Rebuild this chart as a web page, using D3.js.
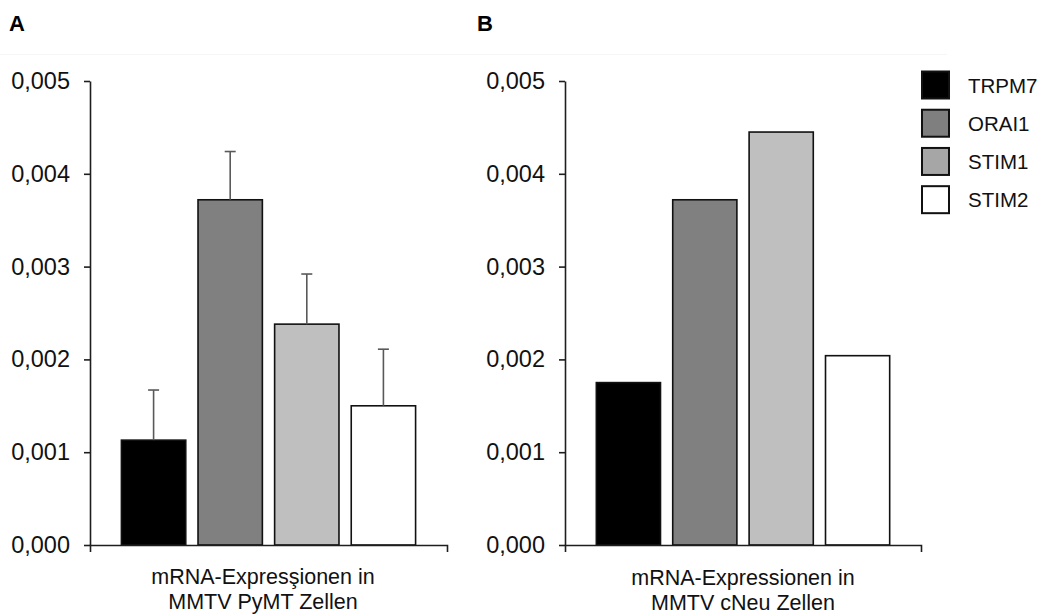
<!DOCTYPE html>
<html>
<head>
<meta charset="utf-8">
<script src="https://cdn.jsdelivr.net/npm/d3@7"></script>
<style>
  html, body { margin: 0; padding: 0; background: #fff; }
  svg { display: block; font-family: "Liberation Sans", Arial, sans-serif; }
</style>
</head>
<body>
<svg id="chart" width="1044" height="616"></svg>
<script>
// ---- Data ----
const genes = ["TRPM7", "ORAI1", "STIM1", "STIM2"];
const pymtValues = [0.00113, 0.00372, 0.00238, 0.00150];
const pymtErrors = [0.00054, 0.00052, 0.00054, 0.00061];
const cneuValues = [0.00175, 0.00372, 0.00445, 0.00204];
const yTicks = [0, 0.001, 0.002, 0.003, 0.004, 0.005];
const panelLabels = ["A", "B"];
const axisTitlesA = ["mRNA-Expresşionen in", "MMTV PyMT Zellen"];
const axisTitlesB = ["mRNA-Expressionen in", "MMTV cNeu Zellen"];
const barColors = ["#000000", "#808080", "#bfbfbf", "#ffffff"];
const legendColors = ["#000000", "#7f7f7f", "#a6a6a6", "#ffffff"];

const svg = d3.select("#chart");
const deLocale = d3.formatLocale({decimal: ",", thousands: ".", grouping: [3], currency: ["", "€"]});
const fmt = deLocale.format(".3f");

const color = d3.scaleOrdinal().domain(genes).range(barColors);
const legendColor = d3.scaleOrdinal().domain(genes).range(legendColors);

// faint separator line
svg.append("line").attr("x1", 0).attr("x2", 947).attr("y1", 54.5).attr("y2", 54.5)
  .attr("stroke", "#f6f6f6").attr("stroke-width", 1);

function drawPanel(x0, x1, values, errors, titleLines, titleCx, titleY, label, labelX) {
  const y = d3.scaleLinear().domain([0, 0.005]).range([545, 81]);
  const x = d3.scaleBand().domain(genes).range([x0, x1]).paddingInner(0.16).paddingOuter(0.41);
  const g = svg.append("g");

  // y axis
  const yAxis = d3.axisLeft(y).tickValues(yTicks).tickFormat(fmt).tickSizeInner(6).tickSizeOuter(0).tickPadding(14);
  const ya = g.append("g").attr("transform", `translate(${x0},0)`).call(yAxis);
  ya.selectAll("path, line").attr("stroke", "#1e1e1e").attr("stroke-width", 1.6);
  ya.selectAll("text").attr("font-size", 23.5).attr("fill", "#111")
    .attr("font-family", "'Liberation Sans', Arial, sans-serif");

  // bars
  g.selectAll("rect.bar").data(genes).enter().append("rect")
    .attr("class", "bar")
    .attr("x", d => x(d))
    .attr("y", (d, i) => y(values[i]))
    .attr("width", x.bandwidth())
    .attr("height", (d, i) => y(0) - y(values[i]))
    .attr("fill", d => color(d))
    .attr("stroke", "#111")
    .attr("stroke-width", 1.6);

  // error bars
  if (errors) {
    const eb = g.selectAll("g.err").data(genes).enter().append("g").attr("class", "err");
    eb.append("line")
      .attr("x1", d => x(d) + x.bandwidth() / 2).attr("x2", d => x(d) + x.bandwidth() / 2)
      .attr("y1", (d, i) => y(values[i])).attr("y2", (d, i) => y(values[i] + errors[i]))
      .attr("stroke", "#595959").attr("stroke-width", 1.6);
    eb.append("line")
      .attr("x1", d => x(d) + x.bandwidth() / 2 - 5.5).attr("x2", d => x(d) + x.bandwidth() / 2 + 5.5)
      .attr("y1", (d, i) => y(values[i] + errors[i])).attr("y2", (d, i) => y(values[i] + errors[i]))
      .attr("stroke", "#595959").attr("stroke-width", 1.6);
  }

  // x axis
  const xAxis = d3.axisBottom(d3.scaleLinear().range([x0, x1])).tickValues([]).tickSizeOuter(7);
  const xa = g.append("g").attr("transform", `translate(0,${y(0)})`).call(xAxis);
  xa.selectAll("path").attr("stroke", "#1e1e1e").attr("stroke-width", 1.6);

  // axis title
  g.append("text").attr("x", titleCx).attr("y", titleY).attr("text-anchor", "middle")
    .attr("font-size", 21.5).attr("fill", "#111")
    .selectAll("tspan").data(titleLines).enter().append("tspan")
    .attr("x", titleCx).attr("dy", (d, i) => i === 0 ? 0 : 25).text(d => d);

  // panel label
  g.append("text").attr("x", labelX).attr("y", 31).attr("font-size", 22).attr("font-weight", "bold")
    .attr("fill", "#000").text(label);
}

drawPanel(90, 447, pymtValues, pymtErrors, axisTitlesA, 263, 584, panelLabels[0], 9);
drawPanel(565, 921, cneuValues, null, axisTitlesB, 743, 585, panelLabels[1], 477);

// legend
const leg = d3.scaleBand().domain(genes).range([70.5, 215]).paddingInner(0.22);
const lg = svg.append("g");
const items = lg.selectAll("g").data(genes).enter().append("g");
items.append("rect")
  .attr("x", 922).attr("y", d => leg(d) + 1)
  .attr("width", 27).attr("height", 27)
  .attr("fill", d => legendColor(d)).attr("stroke", "#111").attr("stroke-width", 2);
items.append("text")
  .attr("x", 968).attr("y", d => leg(d) + 15).attr("dy", "0.35em")
  .attr("font-size", 20.5).attr("fill", "#111").text(d => d);
</script>
</body>
</html>
